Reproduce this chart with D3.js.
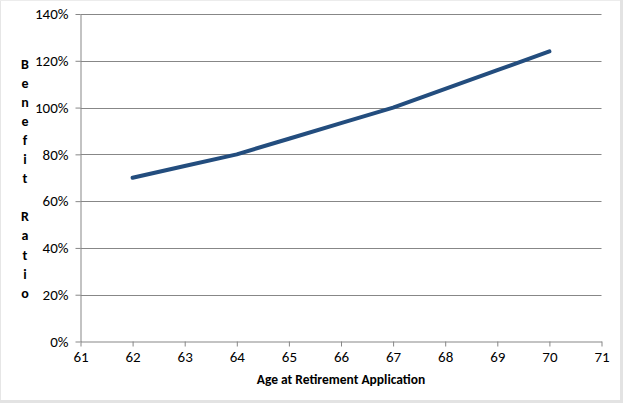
<!DOCTYPE html>
<html>
<head>
<meta charset="utf-8">
<script src="https://cdn.jsdelivr.net/npm/d3@7"></script>
<style>
html,body{margin:0;padding:0;background:#fff;}
svg{display:block;}
text{font-family:Carlito,Calibri,Lato,"Open Sans",sans-serif;fill:#000;}
</style>
</head>
<body>
<svg id="chart" width="623" height="403"></svg>
<script>
const ages = [62, 63, 64, 65, 66, 67, 68, 69, 70];
const ratios = [0.70, 0.75, 0.80, 0.8667, 0.9333, 1.00, 1.08, 1.16, 1.24];
const xTicks = [61, 62, 63, 64, 65, 66, 67, 68, 69, 70, 71];
const yTicks = [0, 0.2, 0.4, 0.6, 0.8, 1.0, 1.2, 1.4];
const xTitle = "Age at Retirement Application";
const yTitle = "Benefit Ratio";

const svg = d3.select("#chart");
const W = 623, H = 403;

// frame
svg.append("rect").attr("x",0).attr("y",0).attr("width",W).attr("height",H).attr("fill","#fff");
svg.append("rect").attr("x",0).attr("y",0).attr("width",1).attr("height",H).attr("fill","#e6e6e6");
svg.append("rect").attr("x",0).attr("y",0).attr("width",W).attr("height",1).attr("fill","#ececec");
svg.append("rect").attr("x",W-3).attr("y",0).attr("width",3).attr("height",H).attr("fill","#e3e3e3");
svg.append("rect").attr("x",0).attr("y",H-3).attr("width",W).attr("height",3).attr("fill","#e3e3e3");

const x = d3.scaleLinear().domain([61, 71]).range([80.5, 601.5]);
const y = d3.scaleLinear().domain([0, 1.4]).range([341.5, 14]);

// gridlines
svg.append("g").selectAll("line").data(yTicks.filter(d => d > 0)).join("line")
  .attr("x1", x(61)).attr("x2", x(71))
  .attr("y1", d => Math.round(y(d)) + 0.5).attr("y2", d => Math.round(y(d)) + 0.5)
  .attr("stroke", "#878787").attr("stroke-width", 1);

// y axis
const yAxis = d3.axisLeft(y).tickValues(yTicks).tickFormat(d3.format(".0%")).tickSize(5).tickSizeOuter(0);
const gy = svg.append("g").attr("transform", "translate(80.5,0)").call(yAxis);
gy.select(".domain").attr("stroke", "#878787");
gy.selectAll(".tick line").attr("stroke", "#878787");
gy.selectAll(".tick text").attr("x", -12).style("font-size", "15px").attr("fill", "#000");

// x axis
const xAxis = d3.axisBottom(x).tickValues(xTicks).tickFormat(d3.format("d")).tickSize(5).tickSizeOuter(0);
const gx = svg.append("g").attr("transform", "translate(0,341.5)").call(xAxis);
gx.select(".domain").attr("stroke", "#878787");
gx.selectAll(".tick line").attr("stroke", "#878787");
gx.selectAll(".tick text").attr("y", 10).style("font-size", "15px").attr("fill", "#000");

// line
const data = ages.map((a, i) => ({a, r: ratios[i]}));
svg.append("path").datum(data)
  .attr("fill", "none")
  .attr("stroke", "#234d7e")
  .attr("stroke-width", 4)
  .attr("stroke-linecap", "round")
  .attr("stroke-linejoin", "round")
  .attr("d", d3.line().x(d => x(d.a)).y(d => y(d.r)));

// x title
svg.append("text").attr("x", (x(61) + x(71)) / 2).attr("y", 384)
  .attr("text-anchor", "middle").style("font-size", "13.5px").style("font-weight", "bold")
  .text(xTitle);

// y title: stacked letters
const letters = yTitle.split("");
const yt = svg.append("text").attr("text-anchor", "middle").style("font-size", "14px").style("font-weight", "bold");
letters.forEach((ch, i) => {
  yt.append("tspan").attr("x", 25).attr("y", 68.5 + i * 19.1).text(ch === " " ? "\u00a0" : ch);
});
</script>
</body>
</html>
